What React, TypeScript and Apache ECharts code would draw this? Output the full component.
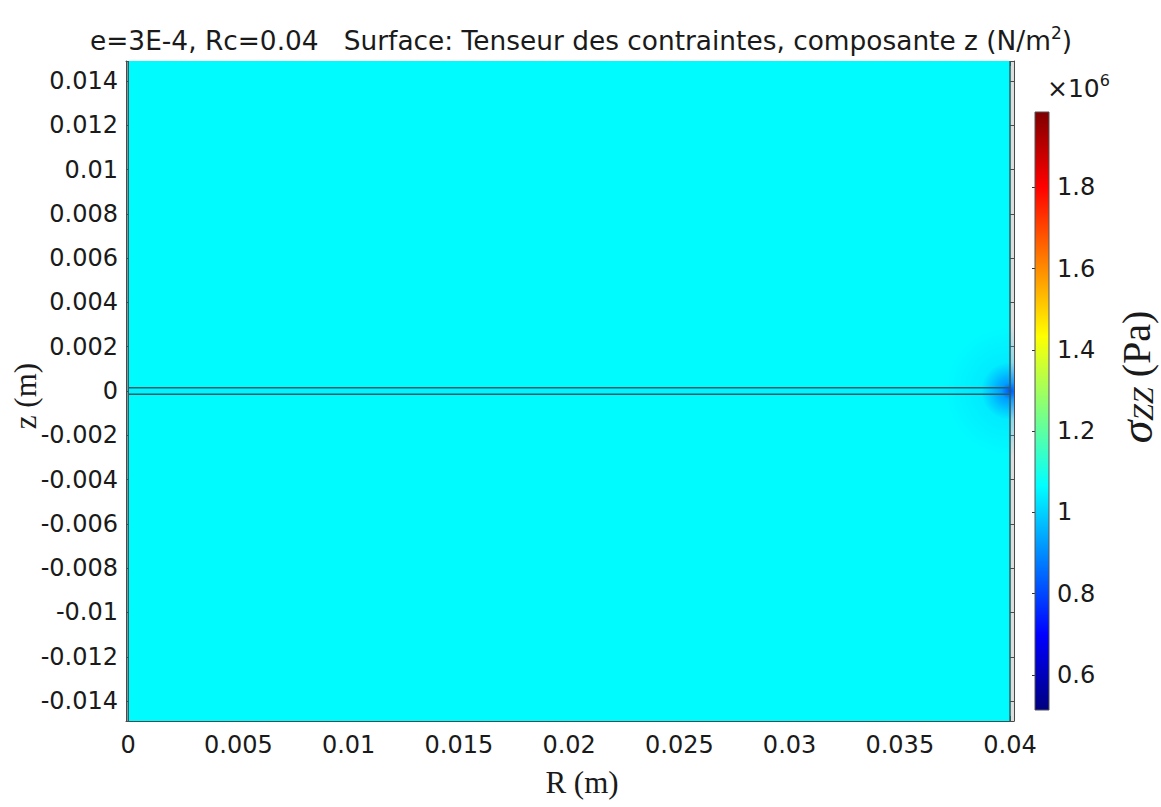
import React, { useEffect, useRef } from "react";
import * as echarts from "echarts";

// ---- data ----
const xTickLabels = ["0", "0.005", "0.01", "0.015", "0.02", "0.025", "0.03", "0.035", "0.04"];
const yTickLabels = ["0.014", "0.012", "0.01", "0.008", "0.006", "0.004", "0.002", "0", "-0.002", "-0.004", "-0.006", "-0.008", "-0.01", "-0.012", "-0.014"];
const cbTickLabels = ["0.6", "0.8", "1", "1.2", "1.4", "1.6", "1.8"];
const cbMin = 0.514;
const cbMax = 1.985;
// field regions: [R0, R1, z0, z1, sigma_zz (x1e6 Pa)]
const fieldRegions = [
  [0, 0.04, 0.00015, 0.0149, 1.06],
  [0, 0.04, -0.00015, 0.00015, 1.05],
  [0, 0.04, -0.0149, -0.00015, 1.06],
];
// stress concentration near the corner: [R, z, radiusR, radiusZ, sigma_zz]
const hotSpots = [
  [0.04, 0, 0.003, 0.003, 1.0],
  [0.04, 0, 0.0013, 0.0013, 0.82],
];
// geometry edges: [R0, z0, R1, z1]
const edges = [
  [0, 0.00015, 0.04, 0.00015],
  [0, -0.00015, 0.04, -0.00015],
  [0, -0.0149, 0, 0.0149],
  [0.04, -0.0149, 0.04, 0.0149],
];
const jetColors = ["#00007f", "#0000ff", "#007fff", "#00ffff", "#7fff7f", "#ffff00", "#ff7f00", "#ff0000", "#7f0000"];

const xTicks = xTickLabels.map(Number);
const yTicks = yTickLabels.map(Number);
const cbTicks = cbTickLabels.map(Number);

function fmt(labels: string[], v: number) {
  let best = labels[0];
  let d = Infinity;
  for (const l of labels) {
    const dd = Math.abs(Number(l) - v);
    if (dd < d) { d = dd; best = l; }
  }
  return best;
}

const FONT = "DejaVu Sans";
const SERIF = "Liberation Serif";
const axisColor = "#4a4a4a";

export default function App() {
  const ref = useRef<HTMLDivElement>(null);
  useEffect(() => {
    if (!ref.current) return;
    const chart = echarts.init(ref.current, undefined, { renderer: "svg" });
    const tickCommon = { show: true, inside: true, length: 5, lineStyle: { color: axisColor, width: 1 } };
    const lineCommon = { show: true, onZero: false, lineStyle: { color: axisColor, width: 1 } };
    const labelStyle = { fontFamily: FONT, fontSize: 24, color: "#1a1a1a" };
    const option: any = {
      animation: false,
      backgroundColor: "#ffffff",
      grid: [
        { left: 126, right: 147, top: 61, bottom: 86, show: true, backgroundColor: "#dedede", borderWidth: 0 },
        { left: 1035, width: 14, top: 112, height: 598 },
      ],
      xAxis: [
        {
          type: "value", gridIndex: 0, min: -0.0001, max: 0.04018, position: "bottom",
          axisLine: lineCommon,
          axisTick: { ...tickCommon, customValues: xTicks },
          axisLabel: { ...labelStyle, margin: 12, customValues: xTicks, formatter: (v: number) => fmt(xTickLabels, v) },
          splitLine: { show: false },
        },
        {
          type: "value", gridIndex: 0, min: -0.0001, max: 0.04018, position: "top",
          axisLine: lineCommon,
          axisTick: { ...tickCommon, customValues: xTicks },
          axisLabel: { show: false },
          splitLine: { show: false },
        },
        { type: "value", gridIndex: 1, min: 0, max: 1, show: false },
      ],
      yAxis: [
        {
          type: "value", gridIndex: 0, min: -0.0149, max: 0.0149, position: "left",
          axisLine: lineCommon,
          axisTick: { ...tickCommon, customValues: yTicks },
          axisLabel: { ...labelStyle, margin: 8, customValues: yTicks, formatter: (v: number) => fmt(yTickLabels, v) },
          splitLine: { show: false },
        },
        {
          type: "value", gridIndex: 0, min: -0.0149, max: 0.0149, position: "right",
          axisLine: lineCommon,
          axisTick: { ...tickCommon, customValues: yTicks },
          axisLabel: { show: false },
          splitLine: { show: false },
        },
        {
          type: "value", gridIndex: 1, min: cbMin, max: cbMax, position: "right",
          axisLine: { show: false },
          axisTick: { show: true, inside: true, length: 3, lineStyle: { color: "#333", width: 1 }, customValues: cbTicks },
          axisLabel: { ...labelStyle, margin: 8, customValues: cbTicks, formatter: (v: number) => fmt(cbTickLabels, v) },
          splitLine: { show: false },
        },
        {
          type: "value", gridIndex: 1, min: cbMin, max: cbMax, position: "left",
          axisLine: { show: false },
          axisTick: { show: true, inside: true, length: 3, lineStyle: { color: "#333", width: 1 }, customValues: cbTicks },
          axisLabel: { show: false },
          splitLine: { show: false },
        },
      ],
      visualMap: {
        type: "continuous",
        show: false,
        min: cbMin,
        max: cbMax,
        dimension: 4,
        seriesIndex: [0, 1],
        inRange: { color: jetColors },
      },
      series: [
        {
          type: "custom",
          xAxisIndex: 0, yAxisIndex: 0,
          clip: true,
          data: fieldRegions,
          encode: { x: [0, 1], y: [2, 3] },
          renderItem: (params: any, api: any) => {
            const p0 = api.coord([api.value(0), api.value(3)]);
            const p1 = api.coord([api.value(1), api.value(2)]);
            return {
              type: "rect",
              shape: { x: p0[0], y: p0[1], width: p1[0] - p0[0], height: p1[1] - p0[1] },
              style: { fill: api.visual("color") },
            };
          },
        },
        {
          type: "custom",
          xAxisIndex: 0, yAxisIndex: 0,
          clip: true,
          data: hotSpots,
          encode: { x: 0, y: 1 },
          renderItem: (params: any, api: any) => {
            const c = api.coord([api.value(0), api.value(1)]);
            const e = api.coord([api.value(0) - api.value(2), api.value(1)]);
            const r = Math.abs(c[0] - e[0]);
            const col = api.visual("color");
            return {
              type: "circle",
              shape: { cx: c[0], cy: c[1], r },
              style: {
                fill: new echarts.graphic.RadialGradient(0.5, 0.5, 0.5, [
                  { offset: 0, color: col },
                  { offset: 0.3, color: echarts.color.modifyAlpha(col, 0.45) },
                  { offset: 1, color: echarts.color.modifyAlpha(col, 0) },
                ]),
              },
            };
          },
        },
        {
          type: "custom",
          xAxisIndex: 0, yAxisIndex: 0,
          clip: true,
          data: edges,
          encode: { x: [0, 2], y: [1, 3] },
          renderItem: (params: any, api: any) => {
            const a = api.coord([api.value(0), api.value(1)]);
            const b = api.coord([api.value(2), api.value(3)]);
            return {
              type: "line",
              shape: { x1: a[0], y1: a[1], x2: b[0], y2: b[1] },
              style: { stroke: "#2d5c63", lineWidth: 1.5 },
            };
          },
        },
        {
          type: "custom",
          xAxisIndex: 2, yAxisIndex: 2,
          data: [[0, 1, cbMin, cbMax]],
          encode: { x: [0, 1], y: [2, 3] },
          renderItem: (params: any, api: any) => {
            const p0 = api.coord([api.value(0), api.value(3)]);
            const p1 = api.coord([api.value(1), api.value(2)]);
            const stops = jetColors.map((c, i) => ({ offset: i / (jetColors.length - 1), color: c }));
            return {
              type: "rect",
              shape: { x: p0[0], y: p0[1], width: p1[0] - p0[0], height: p1[1] - p0[1] },
              style: {
                fill: new echarts.graphic.LinearGradient(0, 1, 0, 0, stops),
                stroke: "#555",
                lineWidth: 1,
              },
            };
          },
        },
      ],
      graphic: [
        {
          type: "text", x: 90, y: 40,
          style: {
            text: "e=3E-4, Rc=0.04   Surface: Tenseur des contraintes, composante z (N/m{sup|2})",
            font: `26.4px "${FONT}"`, fill: "#1a1a1a", textAlign: "left", textVerticalAlign: "middle",
            rich: { sup: { fontFamily: FONT, fontSize: 17, padding: [0, 0, 14, 0], fill: "#1a1a1a" } },
          },
        },
        {
          type: "text", x: 1047, y: 88,
          style: {
            text: "×10{sup|6}",
            font: `25px "${FONT}"`, fill: "#1a1a1a", textAlign: "left", textVerticalAlign: "middle",
            rich: { sup: { fontFamily: FONT, fontSize: 16, padding: [0, 0, 15, 0], fill: "#1a1a1a" } },
          },
        },
        {
          type: "text", x: 582, y: 782,
          style: { text: "R (m)", font: `31px "${SERIF}"`, fill: "#1a1a1a", textAlign: "center", textVerticalAlign: "middle" },
        },
        {
          type: "text", x: 25, y: 396, rotation: Math.PI / 2,
          style: { text: "z (m)", font: `31px "${SERIF}"`, fill: "#1a1a1a", textAlign: "center", textVerticalAlign: "middle" },
        },
        {
          type: "text", x: 1136, y: 377, rotation: Math.PI / 2,
          style: {
            text: "{s|σ}{sub|ZZ}{p| (Pa)}",
            textAlign: "center", textVerticalAlign: "middle", fill: "#1a1a1a",
            rich: {
              s: { fontFamily: SERIF, fontStyle: "italic", fontSize: 46, lineHeight: 40, fill: "#1a1a1a" },
              sub: { fontFamily: SERIF, fontStyle: "italic", fontSize: 30, lineHeight: 24, padding: [12, 0, 0, 0], fill: "#1a1a1a" },
              p: { fontFamily: SERIF, fontSize: 40, lineHeight: 38, fill: "#1a1a1a" },
            },
          },
        },
      ],
    };
    chart.setOption(option);
    return () => chart.dispose();
  }, []);
  return <div ref={ref} style={{ position: "fixed", left: 0, top: 0, width: 1161, height: 807 }} />;
}
